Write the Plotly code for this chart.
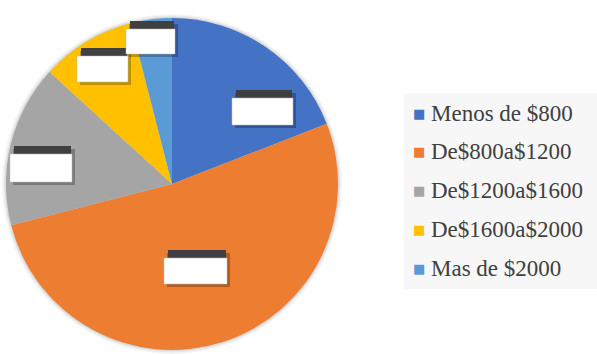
import plotly.graph_objects as go

# ---- data ----
labels = ["Menos de $800", "De$800a$1200", "De$1200a$1600", "De$1600a$2000", "Mas de $2000"]
values = [19.1, 51.9, 15.8, 9.2, 4.0]
colors = ["#4472C4", "#ED7D31", "#A5A5A5", "#FFC000", "#5B9BD5"]

W, H = 597, 354

def px(x):
    return x / W

def py(y):
    return 1 - y / H

def cl(v):
    return min(1.0, max(0.0, v))

cx, cy, r = 172, 184, 166

fig = go.Figure()

# soft shadow behind pie
for i, (dr, a) in enumerate([(4, 0.04), (2.5, 0.05), (1.2, 0.07)]):
    fig.add_trace(go.Pie(
        values=[1], labels=["s%d" % i], marker=dict(colors=["rgba(0,0,0,%s)" % a]),
        textinfo="none", hoverinfo="skip", showlegend=False, sort=False,
        domain=dict(x=[cl(px(cx - r - dr)), cl(px(cx + r + dr))],
                    y=[cl(py(cy + r + dr)), cl(py(cy - r - dr))]),
    ))

fig.add_trace(go.Pie(
    labels=labels, values=values, sort=False, direction="clockwise", rotation=0,
    marker=dict(colors=colors, line=dict(width=0)),
    textinfo="none", showlegend=False,
    domain=dict(x=[px(cx - r), px(cx + r)], y=[py(cy + r), py(cy - r)]),
))

# hidden data-label boxes (x0, x1, y0, y1 of white box; strip above)
boxes = [
    (232, 293, 98, 125),
    (164, 227, 258, 284),
    (10, 72, 154, 182),
    (77, 128, 56, 82),
    (126, 175, 29, 54),
]
shapes = []
for (x0, x1, y0, y1) in boxes:
    shapes.append(dict(type="rect", xref="paper", yref="paper",
                       x0=px(x0 + 3), x1=px(x1 + 3), y0=py(y1 + 3), y1=py(y0 - 5),
                       fillcolor="rgba(0,0,0,0.25)", line=dict(width=0)))
    shapes.append(dict(type="rect", xref="paper", yref="paper",
                       x0=px(x0 + 4), x1=px(x1 - 1), y0=py(y0), y1=py(y0 - 8),
                       fillcolor="#404040", line=dict(width=0)))
    shapes.append(dict(type="rect", xref="paper", yref="paper",
                       x0=px(x0), x1=px(x1), y0=py(y1), y1=py(y0),
                       fillcolor="white", line=dict(width=0.5, color="#bbbbbb")))

# legend box
shapes.append(dict(type="rect", xref="paper", yref="paper", layer="below",
                   x0=px(404), x1=px(597), y0=py(289), y1=py(93),
                   fillcolor="#f7f7f7", line=dict(width=0)))

annotations = []
for i, (lab, col) in enumerate(zip(labels, colors)):
    yc = 113 + i * 38.8
    annotations.append(dict(
        xref="paper", yref="paper", x=px(411), y=py(yc), xanchor="left", yanchor="middle",
        text="<span style='color:%s'>■</span>" % col, showarrow=False,
        font=dict(family="DejaVu Sans", size=13, color=col),
    ))
    annotations.append(dict(
        xref="paper", yref="paper", x=px(429), y=py(yc), xanchor="left", yanchor="middle",
        text=lab, showarrow=False,
        font=dict(family="Liberation Serif", size=23, color="#404040"),
    ))

fig.update_layout(
    width=W, height=H, margin=dict(l=0, r=0, t=0, b=0),
    paper_bgcolor="white", plot_bgcolor="white",
    showlegend=False, shapes=shapes, annotations=annotations,
)

fig.write_html("out.html")
